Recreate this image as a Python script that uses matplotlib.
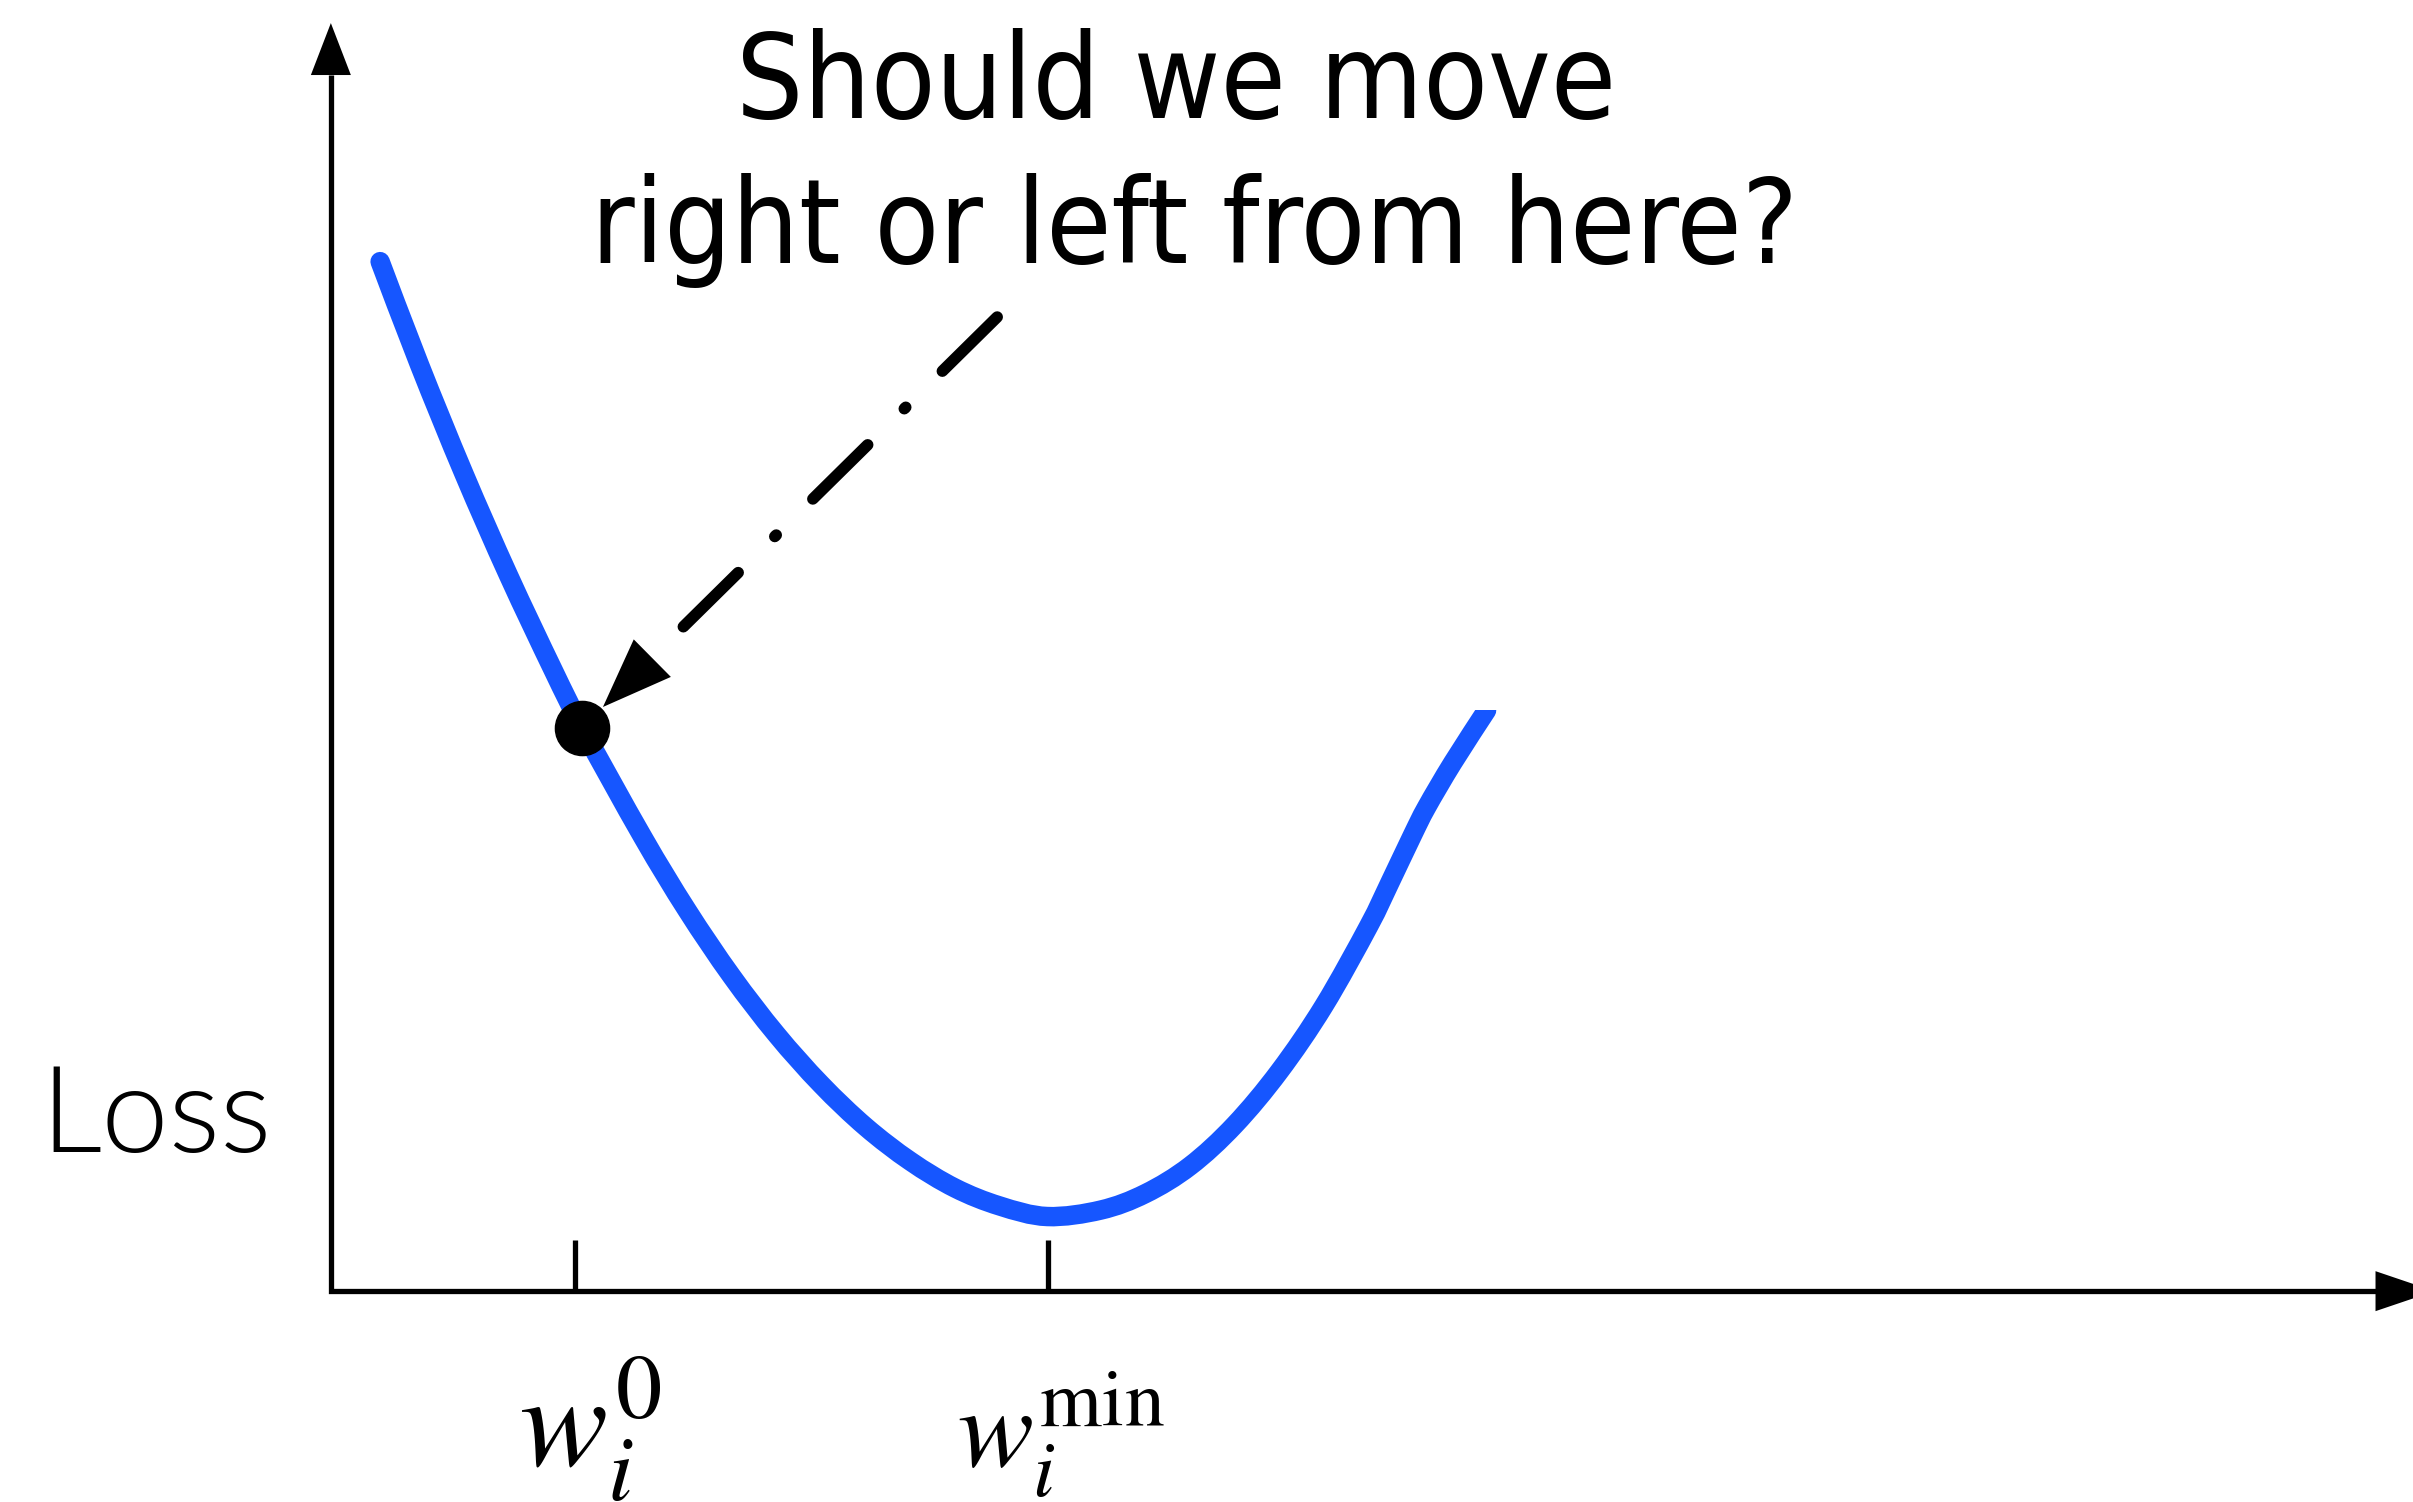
import matplotlib
matplotlib.use('Agg')
import matplotlib.pyplot as plt
from matplotlib.patches import Polygon, PathPatch
from matplotlib.path import Path

plt.rcParams['mathtext.fontset'] = 'stix'
plt.rcParams['lines.scale_dashes'] = False

# loss curve: w to the right of the y axis, loss above the x axis
w = [32, 57.5, 86.5, 115.5, 144.4, 163.3, 202.5, 231.5, 260.5, 289.5, 318.5, 347.5,
     376.5, 405.6, 434.5, 465.5, 500.3, 529.3, 558.4, 587.3, 616.4, 645.3, 674.4,
     688, 703, 712, 729, 751]
loss = [669, 602.2, 531.1, 465, 403.7, 366, 295.4, 247.5, 204.6, 166.9, 134.4, 106.8,
        84.5, 67, 55.4, 48.5, 52.7, 63.4, 81.4, 108, 142.9, 185.4, 237.2,
        265.1, 296.6, 314.4, 343.3, 377.4]

# current weight and the minimum
w_start, loss_start = 163, 366
w_min = 466
tick_w = [158.7, w_min]
tick_height = 33
tick_labels = [r'$w_i^0$', r'$w_i^{\mathrm{min}}$']

# dash-dot arrow pointing at the current weight
arrow_tail = (433, 633)
arrow_shaft_end = (221.6, 424.4)
arrow_tip = (176.8, 379.6)

# axis extents
y_axis_top, y_axis_tip = 790, 824
x_axis_end, x_axis_tip = 1329, 1367

AXIS_LW = 3.8
BLUE = '#1656FF'

fig = plt.figure(figsize=(24.13, 15.02), dpi=100)
ax = fig.add_axes([0, 0, 1, 1])
ax.set_xlim(-215, 1353)
ax.set_ylim(-137, 839)
ax.axis('off')

# axes drawn by hand with arrow heads
ax.plot([0, 0, x_axis_end], [y_axis_top, 0, 0], color='k', lw=AXIS_LW,
        solid_joinstyle='miter', solid_capstyle='butt')
ax.annotate('', xy=(0, y_axis_tip), xytext=(0, 0), annotation_clip=False,
            arrowprops=dict(arrowstyle='-|>,head_length=37.4,head_width=14.4',
                            mutation_scale=1, lw=0, color='k', shrinkA=0, shrinkB=0))
ax.annotate('', xy=(x_axis_tip, 0), xytext=(0, 0), annotation_clip=False,
            arrowprops=dict(arrowstyle='-|>,head_length=42.5,head_width=14.4',
                            mutation_scale=1, lw=0, color='k', shrinkA=0, shrinkB=0))

ax.vlines(tick_w, 0, tick_height, color='k', lw=AXIS_LW)

# loss curve as a smooth bezier path through the read points, cut flat at its right end
pts = list(zip(w, loss))
verts = [pts[0]]
codes = [Path.MOVETO]
for i in range(len(pts) - 1):
    p0 = pts[max(i - 1, 0)]
    p1 = pts[i]
    p2 = pts[i + 1]
    p3 = pts[min(i + 2, len(pts) - 1)]
    c1 = (p1[0] + (p2[0] - p0[0]) / 6, p1[1] + (p2[1] - p0[1]) / 6)
    c2 = (p2[0] - (p3[0] - p1[0]) / 6, p2[1] - (p3[1] - p1[1]) / 6)
    verts += [c1, c2, p2]
    codes += [Path.CURVE4] * 3
curve = PathPatch(Path(verts, codes), fill=False, edgecolor=BLUE, lw=14,
                  capstyle='round', joinstyle='round', zorder=3)
ax.add_patch(curve)
clip = Polygon([(-215, -137), (-215, 839), (w_min, 839), (w_min, loss[-1]),
                (1353, loss[-1]), (1353, -137)], transform=ax.transData)
curve.set_clip_path(clip)

ax.plot(w_start, loss_start, 'o', ms=39, color='k', zorder=5)

ax.plot([arrow_tail[0], arrow_shaft_end[0]], [arrow_tail[1], arrow_shaft_end[1]],
        color='k', lw=8.3, dashes=(55.5, 37, 1.5, 37), dash_capstyle='round')
ax.annotate('', xy=arrow_tip, xytext=arrow_tail,
            arrowprops=dict(arrowstyle='-|>,head_length=50,head_width=19',
                            mutation_scale=1, lw=0, color='k', shrinkA=0, shrinkB=0))

# texts
ax.text(549, 762, 'Should we move', ha='center', va='baseline', fontsize=85,
        family='DejaVu Sans', fontstretch='condensed')
ax.text(561.3, 668, 'right or left from here?', ha='center', va='baseline', fontsize=85,
        family='DejaVu Sans', fontstretch='condensed')
ax.text(-189, 90.7, 'Loss', ha='left', va='baseline', fontsize=87, family='Lato',
        fontweight=350)

ax.text(122, -114, tick_labels[0], ha='left', va='baseline', fontsize=95)
ax.text(407, -114, tick_labels[1], ha='left', va='baseline', fontsize=82)

fig.savefig('out.png', dpi=100)
